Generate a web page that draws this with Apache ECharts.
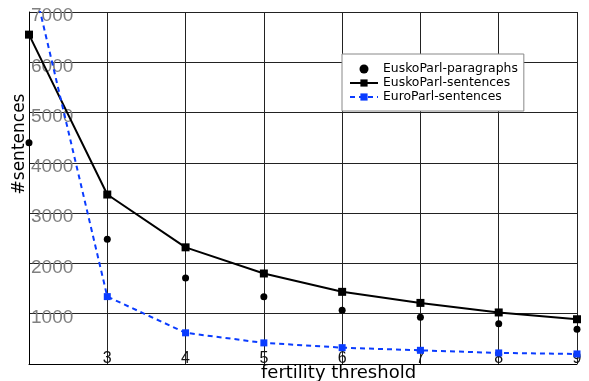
<!DOCTYPE html>
<html>
<head>
<meta charset="utf-8">
<script src="https://cdn.jsdelivr.net/npm/echarts@6/dist/echarts.min.js"></script>
<style>html,body{margin:0;padding:0;background:#fff;}#c{width:589px;height:381px;}</style>
</head>
<body>
<div id="c"></div>
<script>
var thresholds = [2, 3, 4, 5, 6, 7, 8, 9];
var euskoParagraphs = [4400, 2480, 1710, 1335, 1070, 930, 800, 690];
var euskoSentences = [6550, 3370, 2320, 1800, 1435, 1215, 1025, 890];
var euroSentences = [7950, 1340, 620, 420, 325, 272, 220, 200];
var yTicks = [0, 1000, 2000, 3000, 4000, 5000, 6000, 7000];

function pairs(vals) { return thresholds.map(function (t, i) { return [t, vals[i]]; }); }

var chart = echarts.init(document.getElementById('c'));
chart.setOption({
  animation: false,
  backgroundColor: '#fff',
  grid: { left: 29, right: 12, top: 12, bottom: 17 },
  xAxis: {
    type: 'value', min: thresholds[0], max: thresholds[thresholds.length - 1], interval: 1,
    axisLine: { lineStyle: { color: '#000', width: 1 } },
    axisTick: { show: false },
    splitLine: { show: true, lineStyle: { color: '#222', width: 1 } },
    axisLabel: { inside: true, margin: -3, showMinLabel: false, color: '#111', fontSize: 16, fontFamily: 'Liberation Sans',
      formatter: function (v) { return String(v); } }
  },
  yAxis: {
    type: 'value', min: yTicks[0], max: yTicks[yTicks.length - 1], interval: 1000,
    axisLine: { show: true, lineStyle: { color: '#000', width: 1 } },
    axisTick: { show: false },
    splitLine: { show: true, lineStyle: { color: '#222', width: 1 } },
    axisLabel: { inside: true, margin: 2, showMinLabel: false, color: '#808080', fontSize: 19, fontFamily: 'Liberation Sans',
      verticalAlign: 'middle',
      formatter: function (v) { return '{s| }\n{n|' + v + '}'; },
      rich: {
        s: { fontSize: 4, lineHeight: 8 },
        n: { fontSize: 19, lineHeight: 19, color: '#808080', fontFamily: 'Liberation Sans' }
      } }
  },
  legend: {
    orient: 'vertical', left: 342, top: 54,
    backgroundColor: '#fff', borderColor: '#888', borderWidth: 1,
    padding: [9, 6, 8, 7], itemGap: 2, itemWidth: 28, itemHeight: 9,
    textStyle: { fontSize: 12.4, fontFamily: 'DejaVu Sans', color: '#000' },
    data: ['EuskoParl-paragraphs', 'EuskoParl-sentences', 'EuroParl-sentences']
  },
  graphic: [
    { type: 'text', left: 261, top: 364, style: { text: 'fertility threshold', fontSize: 18, fontFamily: 'DejaVu Sans', fill: '#000' } },
    { type: 'text', x: 11, y: 144, rotation: Math.PI / 2, style: { text: '#sentences', fontSize: 17, fontFamily: 'DejaVu Sans', fill: '#000', align: 'center', verticalAlign: 'top' } }
  ],
  series: [
    { name: 'EuskoParl-paragraphs', type: 'scatter', data: pairs(euskoParagraphs), symbol: 'circle', symbolSize: 7, itemStyle: { color: '#000', opacity: 1 } },
    { name: 'EuskoParl-sentences', type: 'line', data: pairs(euskoSentences), symbol: 'rect', symbolSize: 8, showAllSymbol: true,
      lineStyle: { color: '#000', width: 2 }, itemStyle: { color: '#000' } },
    { name: 'EuroParl-sentences', type: 'line', data: pairs(euroSentences), symbol: 'rect', symbolSize: 7, showAllSymbol: true,
      lineStyle: { color: '#0a3cff', width: 2, type: [5, 4] }, itemStyle: { color: '#0a3cff' } }
  ]
});
</script>
</body>
</html>
